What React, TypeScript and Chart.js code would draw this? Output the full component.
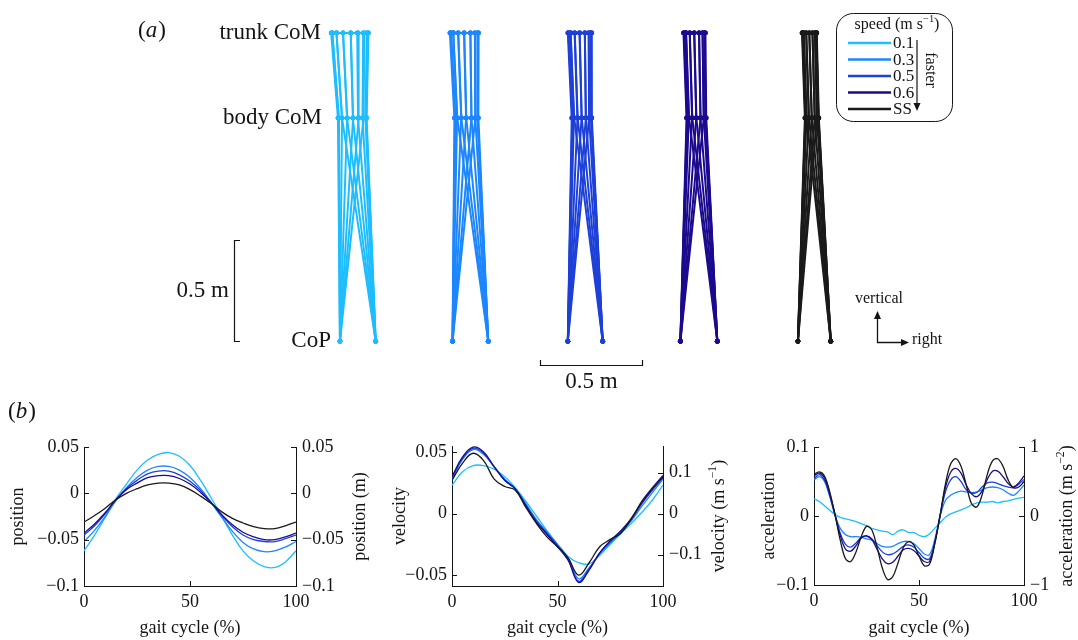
import React, { useEffect, useRef } from 'react';
import { Chart, registerables } from 'chart.js';

Chart.register(...registerables);

const FONT = '"Liberation Serif", "Times New Roman", Times, serif';
const INK = '#141414';

// ---------- speeds ----------
const speedLabels = ['0.1', '0.3', '0.5', '0.6', 'SS'];
const speedColors = ['#1ebdff', '#1c86ff', '#1d40d8', '#1c0a8e', '#1a1a1a'];

// ---------- panel (a): stick figures (metres) ----------
const figureCentres = [0, 0.549, 1.109, 1.663, 2.226];
const trunkHeight = 1.515;
const bodyHeight = 1.097;
const footHalfWidth = [0.087, 0.087, 0.085, 0.09, 0.08];
const stanceSide = [1, 1, 1, 1, 1, 1, 1, 1, -1, -1, -1, -1, -1, -1, -1, -1];

const trunkX_01 = [-0.104, -0.072, -0.035, -0.003, 0.026, 0.044, 0.052, 0.049, 0.032, 0.001, -0.034, -0.072, -0.104, -0.124, -0.13, -0.125];
const bodyX_01 = [-0.077, -0.052, -0.024, 0.001, 0.023, 0.037, 0.043, 0.041, 0.028, 0.004, -0.023, -0.052, -0.077, -0.092, -0.097, -0.093];
const trunkX_03 = [-0.083, -0.059, -0.03, 0.0, 0.022, 0.036, 0.04, 0.036, 0.022, 0.0, -0.031, -0.06, -0.084, -0.096, -0.1, -0.094];
const bodyX_03 = [-0.064, -0.044, -0.02, 0.005, 0.024, 0.035, 0.039, 0.035, 0.024, 0.005, -0.021, -0.045, -0.065, -0.075, -0.078, -0.073];
const trunkX_05 = [-0.071, -0.051, -0.027, -0.002, 0.017, 0.028, 0.032, 0.028, 0.017, -0.002, -0.028, -0.052, -0.072, -0.082, -0.085, -0.08];
const bodyX_05 = [-0.054, -0.037, -0.017, 0.003, 0.019, 0.029, 0.032, 0.029, 0.019, 0.003, -0.018, -0.038, -0.055, -0.063, -0.066, -0.062];
const trunkX_06 = [-0.062, -0.044, -0.022, 0.001, 0.018, 0.028, 0.032, 0.028, 0.018, 0.001, -0.023, -0.045, -0.063, -0.072, -0.075, -0.07];
const bodyX_06 = [-0.048, -0.032, -0.012, 0.008, 0.024, 0.033, 0.036, 0.033, 0.024, 0.008, -0.013, -0.033, -0.049, -0.058, -0.06, -0.056];
const trunkX_SS = [-0.051, -0.039, -0.024, -0.009, 0.003, 0.01, 0.012, 0.01, 0.003, -0.009, -0.025, -0.04, -0.052, -0.058, -0.06, -0.057];
const bodyX_SS = [-0.038, -0.026, -0.012, 0.002, 0.013, 0.02, 0.022, 0.02, 0.013, 0.002, -0.013, -0.027, -0.038, -0.044, -0.046, -0.043];

const trunkX = [trunkX_01, trunkX_03, trunkX_05, trunkX_06, trunkX_SS];
const bodyX = [bodyX_01, bodyX_03, bodyX_05, bodyX_06, bodyX_SS];

const scaleBarLength = 0.5; // m
const scaleBarStartX = 0.888; // m

// ---------- panel (b) ----------
const gait5 = [0, 5, 10, 15, 20, 25, 30, 35, 40, 45, 50, 55, 60, 65, 70, 75, 80, 85, 90, 95, 100];
const gait25 = [0, 2.5, 5, 7.5, 10, 12.5, 15, 17.5, 20, 22.5, 25, 27.5, 30, 32.5, 35, 37.5, 40, 42.5, 45, 47.5, 50,
  52.5, 55, 57.5, 60, 62.5, 65, 67.5, 70, 72.5, 75, 77.5, 80, 82.5, 85, 87.5, 90, 92.5, 95, 97.5, 100];
const gaitTicks = [0, 50, 100];

const pos01 = [-0.062, -0.045, -0.026, -0.006, 0.01, 0.025, 0.036, 0.042, 0.044, 0.04, 0.03, 0.014, -0.005, -0.025, -0.045, -0.062, -0.073, -0.079, -0.08, -0.074, -0.062];
const pos03 = [-0.052, -0.04, -0.025, -0.008, 0.006, 0.017, 0.025, 0.029, 0.029, 0.025, 0.017, 0.005, -0.01, -0.026, -0.041, -0.053, -0.06, -0.063, -0.062, -0.058, -0.052];
const pos05 = [-0.045, -0.035, -0.022, -0.007, 0.005, 0.014, 0.021, 0.024, 0.024, 0.02, 0.013, 0.003, -0.01, -0.024, -0.036, -0.045, -0.05, -0.052, -0.052, -0.049, -0.045];
const pos06 = [-0.043, -0.033, -0.021, -0.007, 0.004, 0.011, 0.017, 0.019, 0.019, 0.016, 0.01, 0.001, -0.01, -0.023, -0.034, -0.042, -0.047, -0.05, -0.05, -0.047, -0.043];
const posSS = [-0.031, -0.024, -0.016, -0.007, 0.0, 0.005, 0.009, 0.011, 0.011, 0.009, 0.004, -0.003, -0.011, -0.02, -0.027, -0.032, -0.036, -0.038, -0.038, -0.035, -0.031];

const vel01 = [0.023, 0.034, 0.039, 0.039, 0.036, 0.03, 0.021, 0.01, -0.002, -0.014, -0.025, -0.035, -0.04, -0.041, -0.034, -0.025, -0.016, -0.008, 0.001, 0.011, 0.023];
const vel03 = [0.028, 0.044, 0.052, 0.048, 0.038, 0.028, 0.02, 0.008, -0.005, -0.015, -0.025, -0.036, -0.053, -0.044, -0.033, -0.024, -0.016, -0.006, 0.006, 0.017, 0.028];
const vel05 = [0.029, 0.045, 0.053, 0.049, 0.038, 0.027, 0.02, 0.007, -0.006, -0.016, -0.026, -0.037, -0.055, -0.045, -0.032, -0.023, -0.015, -0.005, 0.008, 0.019, 0.029];
const vel06 = [0.03, 0.046, 0.054, 0.05, 0.038, 0.027, 0.02, 0.006, -0.007, -0.017, -0.027, -0.038, -0.056, -0.046, -0.032, -0.022, -0.014, -0.004, 0.01, 0.021, 0.031];
const velSS = [0.027, 0.041, 0.049, 0.043, 0.028, 0.022, 0.019, 0.005, -0.008, -0.019, -0.027, -0.036, -0.05, -0.04, -0.027, -0.021, -0.016, -0.004, 0.009, 0.02, 0.03];

const acc01 = [0.025, 0.021, 0.015, 0.008, 0.002, -0.002, -0.004, -0.006, -0.008, -0.011, -0.014, -0.018, -0.02, -0.022, -0.023, -0.027, -0.022, -0.02, -0.024, -0.024, -0.028,
  -0.03, -0.026, -0.018, -0.01, -0.002, 0.003, 0.006, 0.009, 0.012, 0.016, 0.019, 0.02, 0.02, 0.021, 0.019, 0.021, 0.022, 0.024, 0.026, 0.027];
const acc03 = [0.052, 0.057, 0.05, 0.028, 0.001, -0.018, -0.027, -0.03, -0.03, -0.031, -0.033, -0.035, -0.04, -0.044, -0.045, -0.044, -0.04, -0.037, -0.037, -0.04, -0.047,
  -0.055, -0.056, -0.034, -0.001, 0.022, 0.03, 0.034, 0.036, 0.035, 0.034, 0.035, 0.038, 0.041, 0.042, 0.041, 0.038, 0.033, 0.03, 0.036, 0.045];
const acc05 = [0.054, 0.06, 0.052, 0.03, 0.002, -0.025, -0.041, -0.045, -0.039, -0.031, -0.029, -0.033, -0.043, -0.052, -0.056, -0.055, -0.05, -0.044, -0.042, -0.045, -0.053,
  -0.061, -0.062, -0.038, 0.0, 0.034, 0.052, 0.057, 0.05, 0.038, 0.033, 0.034, 0.042, 0.048, 0.049, 0.047, 0.044, 0.042, 0.041, 0.046, 0.053];
const acc06 = [0.058, 0.062, 0.055, 0.032, 0.002, -0.028, -0.048, -0.051, -0.043, -0.032, -0.029, -0.034, -0.048, -0.062, -0.069, -0.067, -0.058, -0.049, -0.047, -0.05, -0.058,
  -0.066, -0.066, -0.04, 0.0, 0.04, 0.063, 0.069, 0.062, 0.045, 0.032, 0.028, 0.036, 0.053, 0.065, 0.065, 0.057, 0.047, 0.042, 0.048, 0.058];
const accSS = [0.06, 0.064, 0.058, 0.035, 0.002, -0.035, -0.062, -0.066, -0.052, -0.03, -0.015, -0.02, -0.045, -0.075, -0.092, -0.088, -0.068, -0.046, -0.037, -0.042, -0.058,
  -0.072, -0.07, -0.04, 0.0, 0.045, 0.075, 0.083, 0.072, 0.045, 0.018, 0.013, 0.03, 0.06, 0.08, 0.083, 0.072, 0.052, 0.041, 0.042, 0.05];

const posTicks = [-0.1, -0.05, 0, 0.05];
const posTicksRight = [-0.1, -0.05, 0, 0.05];
const velTicks = [-0.05, 0, 0.05];
const velTicksRight = [-0.1, 0, 0.1];
const accTicks = [-0.1, 0, 0.1];
const accTicksRight = [-1, 0, 1];

type Part = [string, boolean];

const fmt = (v: number) => (v < 0 ? '\u2212' : '') + String(Math.round(Math.abs(v) * 1000) / 1000);

function drawRich(ctx: CanvasRenderingContext2D, parts: Part[], x: number, y: number, size: number, align: 'left' | 'center' | 'right') {
  const widths = parts.map(([t, sup]) => {
    ctx.font = `${sup ? size * 0.65 : size}px ${FONT}`;
    return ctx.measureText(t).width;
  });
  const total = widths.reduce((a, b) => a + b, 0);
  let cx = align === 'center' ? x - total / 2 : align === 'right' ? x - total : x;
  ctx.textAlign = 'left';
  ctx.textBaseline = 'middle';
  parts.forEach(([t, sup], i) => {
    ctx.font = `${sup ? size * 0.65 : size}px ${FONT}`;
    ctx.fillText(t, cx, sup ? y - size * 0.33 : y);
    cx += widths[i];
  });
}

function arrowHead(ctx: CanvasRenderingContext2D, tx: number, ty: number, dir: 'up' | 'down' | 'right') {
  const l = 8, w = 3.5;
  ctx.beginPath();
  if (dir === 'up') { ctx.moveTo(tx, ty); ctx.lineTo(tx - w, ty + l); ctx.lineTo(tx + w, ty + l); }
  else if (dir === 'down') { ctx.moveTo(tx, ty); ctx.lineTo(tx - w, ty - l); ctx.lineTo(tx + w, ty - l); }
  else { ctx.moveTo(tx, ty); ctx.lineTo(tx - l, ty - w); ctx.lineTo(tx - l, ty + w); }
  ctx.closePath();
  ctx.fill();
}

const panelAPlugin = {
  id: 'panelA',
  afterDraw(chart: any) {
    const ctx: CanvasRenderingContext2D = chart.ctx;
    const xs = chart.scales.x;
    const ys = chart.scales.y;
    ctx.save();
    ctx.fillStyle = INK;
    ctx.strokeStyle = INK;
    ctx.textBaseline = 'middle';
    ctx.textAlign = 'right';
    ctx.font = `23px ${FONT}`;
    ctx.fillText('trunk CoM', 321, ys.getPixelForValue(trunkHeight));
    ctx.fillText('body CoM', 322, ys.getPixelForValue(bodyHeight));
    ctx.fillText('CoP', 331, ys.getPixelForValue(0));

    // (a)
    ctx.textAlign = 'left';
    let px = 138;
    ctx.font = `23px ${FONT}`;
    ctx.fillText('(', px, 31); px += ctx.measureText('(').width;
    ctx.font = `italic 23px ${FONT}`;
    ctx.fillText('a', px, 31); px += ctx.measureText('a').width + 1;
    ctx.font = `23px ${FONT}`;
    ctx.fillText(')', px, 31);

    // vertical scale bar
    const vTop = Math.round(ys.getPixelForValue(scaleBarLength)) + 0.5;
    const vBot = Math.round(ys.getPixelForValue(0)) + 0.5;
    ctx.lineWidth = 1.2;
    ctx.beginPath();
    ctx.moveTo(240, vTop); ctx.lineTo(234.5, vTop); ctx.lineTo(234.5, vBot); ctx.lineTo(240, vBot);
    ctx.stroke();
    ctx.textAlign = 'right';
    ctx.fillText('0.5 m', 229, (vTop + vBot) / 2);

    // horizontal scale bar
    const hL = Math.round(xs.getPixelForValue(scaleBarStartX)) + 0.5;
    const hR = Math.round(xs.getPixelForValue(scaleBarStartX + scaleBarLength)) + 0.5;
    ctx.beginPath();
    ctx.moveTo(hL, 360); ctx.lineTo(hL, 365.5); ctx.lineTo(hR, 365.5); ctx.lineTo(hR, 360);
    ctx.stroke();
    ctx.textAlign = 'center';
    ctx.fillText('0.5 m', (hL + hR) / 2, 382);

    // direction arrows
    ctx.lineWidth = 1.3;
    ctx.beginPath();
    ctx.moveTo(877.5, 316); ctx.lineTo(877.5, 342.5); ctx.lineTo(904, 342.5);
    ctx.stroke();
    arrowHead(ctx, 877.5, 311, 'up');
    arrowHead(ctx, 909, 342.5, 'right');
    ctx.font = `16px ${FONT}`;
    ctx.textAlign = 'center';
    ctx.fillText('vertical', 879, 299);
    ctx.textAlign = 'left';
    ctx.fillText('right', 912, 340);

    // legend box
    const bx = 836.5, by = 13.5, bw = 116, bh = 108, r = 17;
    ctx.lineWidth = 1;
    ctx.beginPath();
    ctx.moveTo(bx + r, by);
    ctx.lineTo(bx + bw - r, by); ctx.arcTo(bx + bw, by, bx + bw, by + r, r);
    ctx.lineTo(bx + bw, by + bh - r); ctx.arcTo(bx + bw, by + bh, bx + bw - r, by + bh, r);
    ctx.lineTo(bx + r, by + bh); ctx.arcTo(bx, by + bh, bx, by + bh - r, r);
    ctx.lineTo(bx, by + r); ctx.arcTo(bx, by, bx + r, by, r);
    ctx.closePath();
    ctx.stroke();
    drawRich(ctx, [['speed (m s', false], ['\u22121', true], [')', false]], 897, 25, 16, 'center');
    const rowY = [43, 59.5, 76, 92.5, 109];
    speedLabels.forEach((lab, i) => {
      ctx.strokeStyle = speedColors[i];
      ctx.lineWidth = 2.5;
      ctx.beginPath();
      ctx.moveTo(848, rowY[i]); ctx.lineTo(891, rowY[i]);
      ctx.stroke();
      ctx.fillStyle = INK;
      ctx.font = `17px ${FONT}`;
      ctx.textAlign = 'left';
      ctx.textBaseline = 'middle';
      ctx.fillText(lab, 893, rowY[i] + 1);
    });
    ctx.strokeStyle = INK;
    ctx.lineWidth = 1.2;
    ctx.beginPath();
    ctx.moveTo(917, 40); ctx.lineTo(917, 104);
    ctx.stroke();
    arrowHead(ctx, 917, 111, 'down');
    ctx.save();
    ctx.translate(930, 70);
    ctx.rotate(Math.PI / 2);
    ctx.font = `16px ${FONT}`;
    ctx.textAlign = 'center';
    ctx.textBaseline = 'middle';
    ctx.fillText('faster', 0, 0);
    ctx.restore();
    ctx.restore();
  },
};

function buildPanelA(canvas: HTMLCanvasElement) {
  const datasets: any[] = [];
  speedLabels.forEach((_, s) => {
    const c = figureCentres[s];
    const col = speedColors[s];
    const common = {
      showLine: true, borderColor: col, backgroundColor: col, borderWidth: 2,
      pointRadius: 2.4, pointBorderWidth: 0, pointHoverRadius: 0, tension: 0,
    };
    trunkX[s].forEach((tx, k) => {
      datasets.push({
        ...common,
        data: [
          { x: c + tx, y: trunkHeight },
          { x: c + bodyX[s][k], y: bodyHeight },
          { x: c + stanceSide[k] * footHalfWidth[s], y: 0 },
        ],
      });
    });
    datasets.push({ ...common, data: [...trunkX[s], trunkX[s][0]].map((tx) => ({ x: c + tx, y: trunkHeight })) });
    datasets.push({ ...common, data: [...bodyX[s], bodyX[s][0]].map((bx) => ({ x: c + bx, y: bodyHeight })) });
  });
  return new Chart(canvas, {
    type: 'scatter',
    data: { datasets },
    options: {
      animation: false,
      responsive: false,
      events: [],
      layout: { padding: 0 },
      plugins: { legend: { display: false }, tooltip: { enabled: false } },
      scales: {
        x: { type: 'linear', min: -1.733, max: 3.5, display: false },
        y: { type: 'linear', min: -0.2767, max: 1.665, display: false },
      },
    } as any,
    plugins: [panelAPlugin],
  });
}

const inwardTicks = {
  id: 'inwardTicks',
  afterDraw(chart: any) {
    const { ctx, chartArea: a } = chart;
    const L = 5;
    ctx.save();
    ctx.strokeStyle = INK;
    ctx.lineWidth = 1;
    ctx.beginPath();
    const x = chart.scales.x;
    x.ticks.forEach((t: any) => {
      const p = Math.round(x.getPixelForValue(t.value)) + 0.5;
      ctx.moveTo(p, a.bottom); ctx.lineTo(p, a.bottom - L);
    });
    const y = chart.scales.y;
    y.ticks.forEach((t: any) => {
      const p = Math.round(y.getPixelForValue(t.value)) + 0.5;
      ctx.moveTo(a.left, p); ctx.lineTo(a.left + L, p);
    });
    const y2 = chart.scales.y2;
    y2.ticks.forEach((t: any) => {
      const p = Math.round(y2.getPixelForValue(t.value)) + 0.5;
      ctx.moveTo(a.right, p); ctx.lineTo(a.right - L, p);
    });
    ctx.stroke();
    ctx.restore();
  },
};

interface PanelB {
  gait: number[];
  series: number[][];
  yRange: [number, number];
  yTicks: number[];
  y2Range: [number, number];
  y2Ticks: number[];
  area: { left: number; right: number; top: number; bottom: number };
  width: number;
  height: number;
  leftTitle: string;
  leftTitlePad: number;
  rightTitle: Part[];
  rightTitleX: number;
  tension: number;
  label?: boolean;
}

function buildPanelB(canvas: HTMLCanvasElement, p: PanelB) {
  const tickFont = { family: FONT, size: 18 };
  const axisCommon = {
    type: 'linear',
    bounds: 'data',
    grid: { display: false, drawTicks: false },
    border: { display: true, color: INK, width: 1 },
  };
  const titlePlugin = {
    id: 'rightTitle',
    afterDraw(chart: any) {
      const { ctx, chartArea: a } = chart;
      ctx.save();
      ctx.fillStyle = INK;
      ctx.translate(p.rightTitleX, (a.top + a.bottom) / 2);
      ctx.rotate(-Math.PI / 2);
      drawRich(ctx, p.rightTitle, 0, 0, 18, 'center');
      ctx.restore();
      if (p.label) {
        ctx.save();
        ctx.fillStyle = INK;
        ctx.textBaseline = 'middle';
        ctx.textAlign = 'left';
        let x = 8;
        ctx.font = `23px ${FONT}`;
        ctx.fillText('(', x, 12); x += ctx.measureText('(').width;
        ctx.font = `italic 23px ${FONT}`;
        ctx.fillText('b', x, 12); x += ctx.measureText('b').width + 1;
        ctx.font = `23px ${FONT}`;
        ctx.fillText(')', x, 12);
        ctx.restore();
      }
    },
  };
  return new Chart(canvas, {
    type: 'line',
    data: {
      datasets: p.series.map((vals, i) => ({
        label: speedLabels[i],
        data: vals.map((v, k) => ({ x: p.gait[k], y: v })),
        borderColor: speedColors[i],
        backgroundColor: speedColors[i],
        borderWidth: 1.3,
        pointRadius: 0,
        tension: p.tension,
        fill: false,
        order: speedLabels.length - 1 - i,
        xAxisID: 'x',
        yAxisID: 'y',
      })),
    },
    options: {
      animation: false,
      responsive: false,
      events: [],
      layout: { padding: { top: p.area.top, left: 0, right: 0, bottom: 0 } },
      plugins: { legend: { display: false }, tooltip: { enabled: false } },
      scales: {
        x: {
          ...axisCommon,
          position: 'bottom',
          min: 0,
          max: 100,
          afterBuildTicks: (s: any) => { s.ticks = gaitTicks.map((v) => ({ value: v })); },
          afterFit: (s: any) => { s.height = p.height - p.area.bottom; },
          ticks: { font: tickFont, color: INK, padding: 5, maxRotation: 0, autoSkip: false, callback: (v: any) => fmt(Number(v)) },
          title: { display: true, text: 'gait cycle (%)', font: tickFont, color: INK, padding: { top: 0, bottom: 1 } },
        },
        y: {
          ...axisCommon,
          position: 'left',
          min: p.yRange[0],
          max: p.yRange[1],
          afterBuildTicks: (s: any) => { s.ticks = p.yTicks.map((v) => ({ value: v })); },
          afterFit: (s: any) => { s.width = p.area.left; },
          ticks: { font: tickFont, color: INK, padding: 5, autoSkip: false, callback: (v: any) => fmt(Number(v)) },
          title: { display: true, text: p.leftTitle, font: tickFont, color: INK, padding: { top: p.leftTitlePad, bottom: 0 } },
        },
        y2: {
          ...axisCommon,
          position: 'right',
          min: p.y2Range[0],
          max: p.y2Range[1],
          afterBuildTicks: (s: any) => { s.ticks = p.y2Ticks.map((v) => ({ value: v })); },
          afterFit: (s: any) => { s.width = p.width - p.area.right; },
          ticks: { font: tickFont, color: INK, padding: 6, autoSkip: false, callback: (v: any) => fmt(Number(v)) },
        },
      },
    } as any,
    plugins: [inwardTicks, titlePlugin],
  });
}

const B_W1 = 372, B_W2 = 358, B_W3 = 348, B_H = 240;

export default function App() {
  const aRef = useRef<HTMLCanvasElement>(null);
  const b1Ref = useRef<HTMLCanvasElement>(null);
  const b2Ref = useRef<HTMLCanvasElement>(null);
  const b3Ref = useRef<HTMLCanvasElement>(null);

  useEffect(() => {
    const charts = [
      buildPanelA(aRef.current!),
      buildPanelB(b1Ref.current!, {
        gait: gait5,
        series: [pos01, pos03, pos05, pos06, posSS],
        yRange: [-0.1, 0.05],
        yTicks: posTicks,
        y2Range: [-0.1, 0.05],
        y2Ticks: posTicksRight,
        area: { left: 84, right: 296, top: 47, bottom: 186 },
        width: B_W1,
        height: B_H,
        leftTitle: 'position',
        leftTitlePad: 7,
        rightTitle: [['position (m)', false]],
        rightTitleX: 360,
        tension: 0.4,
        label: true,
      }),
      buildPanelB(b2Ref.current!, {
        gait: gait5,
        series: [vel01, vel03, vel05, vel06, velSS],
        yRange: [-0.0589, 0.0549],
        yTicks: velTicks,
        y2Range: [-0.1767, 0.1647],
        y2Ticks: velTicksRight,
        area: { left: 80, right: 291, top: 46, bottom: 186 },
        width: B_W2,
        height: B_H,
        leftTitle: 'velocity',
        leftTitlePad: 17,
        rightTitle: [['velocity (m s', false], ['\u22121', true], [')', false]],
        rightTitleX: 347,
        tension: 0.4,
      }),
      buildPanelB(b3Ref.current!, {
        gait: gait25,
        series: [acc01, acc03, acc05, acc06, accSS],
        yRange: [-0.1, 0.1],
        yTicks: accTicks,
        y2Range: [-1, 1],
        y2Ticks: accTicksRight,
        area: { left: 84, right: 294, top: 47, bottom: 185 },
        width: B_W3,
        height: B_H,
        leftTitle: 'acceleration',
        leftTitlePad: 28,
        rightTitle: [['acceleration (m s', false], ['\u22122', true], [')', false]],
        rightTitleX: 337,
        tension: 0.35,
      }),
    ];
    return () => charts.forEach((c) => c.destroy());
  }, []);

  return (
    <div style={{ position: 'absolute', left: 0, top: 0, width: 1078, height: 640, background: '#fff', overflow: 'hidden' }}>
      <canvas ref={aRef} width={1078} height={400} style={{ position: 'absolute', left: 0, top: 0 }} />
      <canvas ref={b1Ref} width={B_W1} height={B_H} style={{ position: 'absolute', left: 0, top: 400 }} />
      <canvas ref={b2Ref} width={B_W2} height={B_H} style={{ position: 'absolute', left: B_W1, top: 400 }} />
      <canvas ref={b3Ref} width={B_W3} height={B_H} style={{ position: 'absolute', left: B_W1 + B_W2, top: 400 }} />
    </div>
  );
}
